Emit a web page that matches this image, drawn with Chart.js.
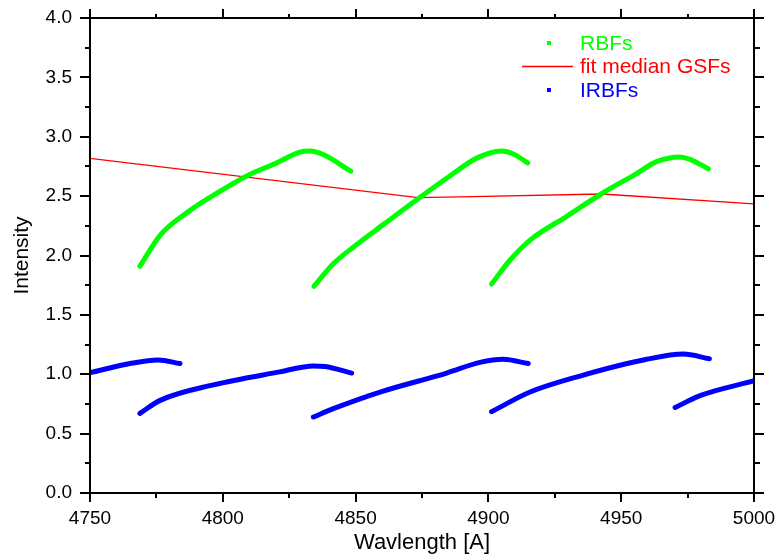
<!DOCTYPE html>
<html>
<head>
<meta charset="utf-8">
<script src="https://cdn.jsdelivr.net/npm/chart.js@4"></script>
<style>
html,body{margin:0;padding:0;background:#fff;}
#wrap{width:777px;height:560px;}
</style>
</head>
<body>
<div id="wrap"><canvas id="c" width="777" height="560"></canvas></div>
<script>
// ---- data ----
const xTickValues = [4750, 4800, 4850, 4900, 4950, 5000];
const yTickLabels = ['0.0','0.5','1.0','1.5','2.0','2.5','3.0','3.5','4.0'];

// RBFs (green), null separates segments
const rbfWave  = [4768.8,4776.4,4787.7,4798.9,4809.0,4820.3,4829.0,4832.8,4837.8,4848.2, null,
                  4834.3,4841.6,4849.1,4860.4,4873.0,4885.5,4895.6,4905.0,4909.4,4914.8, null,
                  4901.2,4908.1,4915.7,4929.5,4942.6,4955.8,4963.3,4972.0,4975.9,4982.8];
const rbfValue = [1.91,2.17,2.38,2.54,2.67,2.78,2.87,2.88,2.85,2.71, null,
                  1.74,1.93,2.07,2.26,2.47,2.67,2.82,2.88,2.855,2.78, null,
                  1.76,1.96,2.13,2.33,2.52,2.69,2.79,2.83,2.81,2.73];

// fit median GSFs (red)
const fitWave  = [4750, 4873.5, 4893.7, 4942.6, 5000];
const fitValue = [2.818, 2.487, 2.495, 2.518, 2.434];

// IRBFs (blue)
const irbfWave  = [4750,4765.1,4775.7,4783.9, null,
                   4768.8,4776.4,4796.4,4821.5,4834.1,4838.5,4848.5, null,
                   4834.1,4841.6,4859.2,4884.3,4896.8,4905.6,4915.0, null,
                   4901.2,4915.7,4934.5,4959.6,4973.4,4983.2, null,
                   4970.3,4979.7,5000];
const irbfValue = [1.013,1.09,1.12,1.09, null,
                   0.67,0.78,0.91,1.02,1.07,1.065,1.01, null,
                   0.64,0.71,0.85,1.01,1.10,1.126,1.09, null,
                   0.685,0.85,0.985,1.126,1.17,1.13, null,
                   0.72,0.82,0.945];

const seriesLabels = ['RBFs', 'fit median GSFs', 'IRBFs'];
const seriesColors = ['#00ff00', '#ff0000', '#0000ff'];

function pts(xs, ys){ return xs.map((x,i)=>({x: x, y: ys[i]})); }

const FONT = '"Liberation Sans", Arial, sans-serif';

const framePlugin = {
  id: 'frame',
  afterDraw(chart){
    const ctx = chart.ctx;
    const {left, right, top, bottom} = chart.chartArea;
    const xs = chart.scales.x, ys = chart.scales.y;
    ctx.save();
    ctx.strokeStyle = '#000';
    ctx.lineWidth = 2;
    ctx.lineCap = 'butt';
    ctx.beginPath();
    ctx.rect(left, top, right-left, bottom-top);
    ctx.stroke();
    ctx.beginPath();
    // x ticks, every 25 (major every 50)
    for (let v = xs.min; v <= xs.max + 0.001; v += 25){
      const px = Math.round(xs.getPixelForValue(v));
      const major = Math.abs((v - xs.min) % 50) < 0.001;
      const Lb = major ? 9 : 5, Lt = major ? 9 : 4;
      ctx.moveTo(px, bottom); ctx.lineTo(px, bottom + Lb);
      ctx.moveTo(px, top); ctx.lineTo(px, top - Lt);
    }
    // y ticks, every 0.25 (major every 0.5)
    for (let i = 0; i <= 16; i++){
      const v = ys.min + i*0.25;
      const py = Math.round(ys.getPixelForValue(v));
      const major = i % 2 === 0;
      const Ll = major ? 10 : 5, Lr = major ? 10 : 6;
      ctx.moveTo(left, py); ctx.lineTo(left - Ll, py);
      ctx.moveTo(right, py); ctx.lineTo(right + Lr, py);
    }
    ctx.stroke();

    // legend inside plot area
    const lx = 549, tx = 580, ly0 = 43, dy = 23.5;
    ctx.font = '21px ' + FONT;
    ctx.textBaseline = 'middle';
    ctx.textAlign = 'left';
    chart.data.datasets.forEach((ds, i) => {
      const y = ly0 + i*dy;
      ctx.fillStyle = ds.borderColor;
      if (ds.legendLine){
        ctx.strokeStyle = ds.borderColor;
        ctx.lineWidth = 1.3;
        ctx.beginPath(); ctx.moveTo(522, y); ctx.lineTo(573, y); ctx.stroke();
      } else {
        ctx.fillRect(lx - 2, y - 2, 4, 4);
      }
      ctx.fillStyle = ds.borderColor;
      ctx.fillText(ds.label, tx, y + 1);
    });
    ctx.restore();
  }
};

function noPad(s){ s.paddingTop = 0; s.paddingBottom = 0; s.paddingLeft = 0; s.paddingRight = 0; }

new Chart(document.getElementById('c'), {
  type: 'scatter',
  data: {
    datasets: [
      { label: seriesLabels[0], data: pts(rbfWave, rbfValue), showLine: true,
        borderColor: seriesColors[0], backgroundColor: seriesColors[0], borderWidth: 5,
        pointRadius: 0, tension: 0.4, cubicInterpolationMode: 'monotone', borderCapStyle: 'round', borderJoinStyle: 'round' },
      { label: seriesLabels[1], data: pts(fitWave, fitValue), showLine: true, legendLine: true,
        borderColor: seriesColors[1], backgroundColor: seriesColors[1], borderWidth: 1.3,
        pointRadius: 0, tension: 0 },
      { label: seriesLabels[2], data: pts(irbfWave, irbfValue), showLine: true,
        borderColor: seriesColors[2], backgroundColor: seriesColors[2], borderWidth: 5,
        pointRadius: 0, tension: 0.4, cubicInterpolationMode: 'monotone', borderCapStyle: 'round', borderJoinStyle: 'round' }
    ]
  },
  options: {
    responsive: false,
    animation: false,
    devicePixelRatio: 1,
    layout: { padding: { top: 18, right: 23, left: 0, bottom: 0 } },
    plugins: { legend: { display: false }, tooltip: { enabled: false } },
    scales: {
      x: {
        type: 'linear', min: xTickValues[0], max: xTickValues[xTickValues.length-1],
        afterBuildTicks: (s) => { s.ticks = xTickValues.map(v => ({value: v})); },
        afterFit: (s) => { s.height = 67; noPad(s); },
        grid: { display: false, drawTicks: false },
        border: { display: false },
        ticks: { color: '#000', font: { family: FONT, size: 19 }, padding: 14, maxRotation: 0,
                 callback: (v) => String(v) },
        title: { display: true, text: 'Wavlength [A]', color: '#000',
                 font: { family: FONT, size: 22 }, padding: { top: 0, bottom: 4 } }
      },
      y: {
        type: 'linear', min: 0, max: 4,
        afterBuildTicks: (s) => { s.ticks = yTickLabels.map(t => ({value: parseFloat(t)})); },
        afterFit: (s) => { s.width = 90; noPad(s); },
        grid: { display: false, drawTicks: false },
        border: { display: false },
        ticks: { color: '#000', font: { family: FONT, size: 19 }, padding: 18,
                 callback: (v) => yTickLabels.find(t => parseFloat(t) === v) },
        title: { display: true, text: 'Intensity', color: '#000',
                 font: { family: FONT, size: 21 }, padding: { top: 10, bottom: 0 } }
      }
    }
  },
  plugins: [framePlugin]
});
</script>
</body>
</html>
